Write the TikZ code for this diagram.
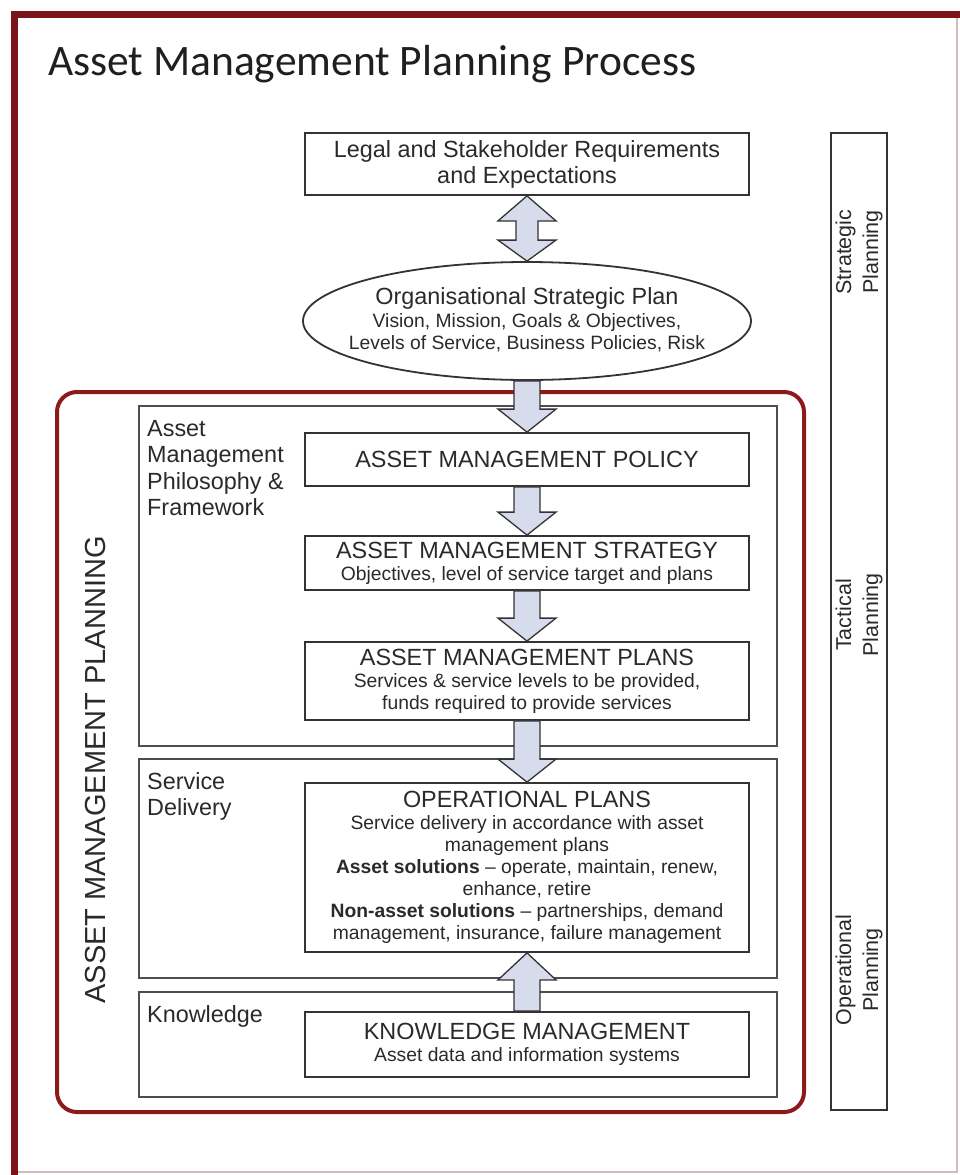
\documentclass[tikz,border=0pt]{standalone}
\usepackage{fontspec}
\setmainfont{Liberation Sans}
\newfontfamily\titlefont{Carlito}
\usetikzlibrary{shapes.geometric,calc}
\definecolor{framered}{HTML}{7A1518}
\definecolor{amred}{HTML}{8B1A1A}
\definecolor{boxline}{HTML}{333333}
\definecolor{grpline}{HTML}{4D4D4D}
\definecolor{arrowfill}{HTML}{D6DCEB}
\definecolor{txt}{HTML}{2A2A2A}
\newcommand\hf{\fontsize{23.4}{26}\selectfont}
\newcommand\subf{\fontsize{19.3}{22}\selectfont}
\newcommand\blkdown[2]{\path[blockarrow] let \p1=(#1), \p2=(#2) in (\x1-13pt,\y1) -- (\x1+13pt,\y1) -- (\x1+13pt,\y2+23pt) -- (\x1+29pt,\y2+23pt) -- (\x1,\y2) -- (\x1-29pt,\y2+23pt) -- (\x1-13pt,\y2+23pt) -- cycle;}
\newcommand\blkup[2]{\path[blockarrow] let \p1=(#1), \p2=(#2) in (\x1-13pt,\y1) -- (\x1+13pt,\y1) -- (\x1+13pt,\y2-27pt) -- (\x1+29pt,\y2-27pt) -- (\x1,\y2) -- (\x1-29pt,\y2-27pt) -- (\x1-13pt,\y2-27pt) -- cycle;}
\newcommand\blkboth[2]{\path[blockarrow] let \p1=(#1), \p2=(#2) in (\x1,\y1) -- (\x1+29pt,\y1-25pt) -- (\x1+11pt,\y1-25pt) -- (\x1+11pt,\y2+21pt) -- (\x1+29pt,\y2+21pt) -- (\x1,\y2) -- (\x1-29pt,\y2+21pt) -- (\x1-11pt,\y2+21pt) -- (\x1-11pt,\y1-25pt) -- (\x1-29pt,\y1-25pt) -- cycle;}
\begin{document}
\begin{tikzpicture}[x=1pt,y=-1pt,
  box/.style={draw=boxline, line width=1.8pt, minimum width=444pt, inner sep=0pt, align=center, text=txt, font=\subf},
  grp/.style={draw=grpline, line width=2pt, minimum width=638pt, inner sep=0pt},
  lbl/.style={anchor=north west, inner sep=0pt, align=left, text=txt, font=\fontsize{23.4}{26.5}\selectfont},
  blockarrow/.style={draw=boxline, line width=1.3pt, fill=arrowfill, line join=miter},
  sidetxt/.style={rotate=90, align=center, text=txt, font=\fontsize{21.5}{27}\selectfont, inner sep=0pt}]
\useasboundingbox (0,0) rectangle (960,1175);
\fill[white] (0,0) rectangle (960,1175);
% outer frame
\draw[framered!30, line width=1.2pt] (957,14) -- (957,1172) -- (14,1172);
\draw[framered, line width=7pt] (14,1175) -- (14,14) -- (960,14);
% title
\node[anchor=base west, inner sep=0pt, text=black!88, font=\titlefont\fontsize{43.5}{50}\selectfont] (title) at (48,75) {Asset Management Planning Process};
% side bar
\node[draw=boxline, line width=1.8pt, minimum width=56pt, minimum height=977pt, inner sep=0pt] (bar) at (859,621.5) {};
\node[sidetxt] (strat) at (859,252) {Strategic\\Planning};
\node[sidetxt] (tact) at (859,615) {Tactical\\Planning};
\node[sidetxt] (oper) at (859,970) {Operational\\Planning};
% strategic top
\node[box, minimum height=62pt, font=\hf] (legal) at (527,164) {Legal and Stakeholder Requirements\\and Expectations};
\node[ellipse, draw=boxline, line width=1.8pt, minimum width=448pt, minimum height=118pt, inner sep=0pt] (osp) at (527,321) {};
\node[align=center, text=txt, font=\subf, inner sep=0pt] (osptext) at (527,320) {{\hf Organisational Strategic Plan}\\[1pt]Vision, Mission, Goals \& Objectives,\\Levels of Service, Business Policies, Risk};
% AM planning frame
\node[draw=amred, line width=4pt, rounded corners=20pt, minimum width=747pt, minimum height=720pt, inner sep=0pt] (amp) at (430.5,752) {};
\node[rotate=90, text=txt, font=\fontsize{29}{32}\selectfont, inner sep=0pt] (amplabel) at (96,770) {ASSET MANAGEMENT PLANNING};
% group boxes
\node[grp, minimum height=340pt] (g1) at (458,576) {};
\node[grp, minimum height=219pt] (g2) at (458,868.5) {};
\node[grp, minimum height=105pt] (g3) at (458,1044.5) {};
\node[lbl] (l1) at (147,420) {Asset\\Management\\Philosophy \&\\Framework};
\node[lbl] (l2) at (147,772) {Service\\Delivery};
\node[lbl] (l3) at (147,1005) {Knowledge};
% main boxes
\node[box, minimum height=53pt] (policy) at (527,459.5) {{\hf ASSET MANAGEMENT POLICY}};
\node[box, minimum height=54pt] (strategy) at (527,563) {{\hf ASSET MANAGEMENT STRATEGY}\\Objectives, level of service target and plans};
\node[box, minimum height=78pt] (plans) at (527,681) {{\hf ASSET MANAGEMENT PLANS}\\Services \& service levels to be provided,\\funds required to provide services};
\node[box, minimum height=169pt] (ops) at (527,867.5) {{\hf OPERATIONAL PLANS}\\Service delivery in accordance with asset\\management plans\\\textbf{Asset solutions} – operate, maintain, renew,\\enhance, retire\\\textbf{Non-asset solutions} – partnerships, demand\\management, insurance, failure management};
\node[box, minimum height=65pt] (km) at (527,1044.5) {{\hf KNOWLEDGE MANAGEMENT}\\Asset data and information systems};
% arrows
\blkboth{legal.south}{osp.north}
\blkdown{osp.south}{policy.north}
\blkdown{policy.south}{strategy.north}
\blkdown{strategy.south}{plans.north}
\blkdown{plans.south}{ops.north}
\blkup{km.north}{ops.south}
\end{tikzpicture}
\end{document}
